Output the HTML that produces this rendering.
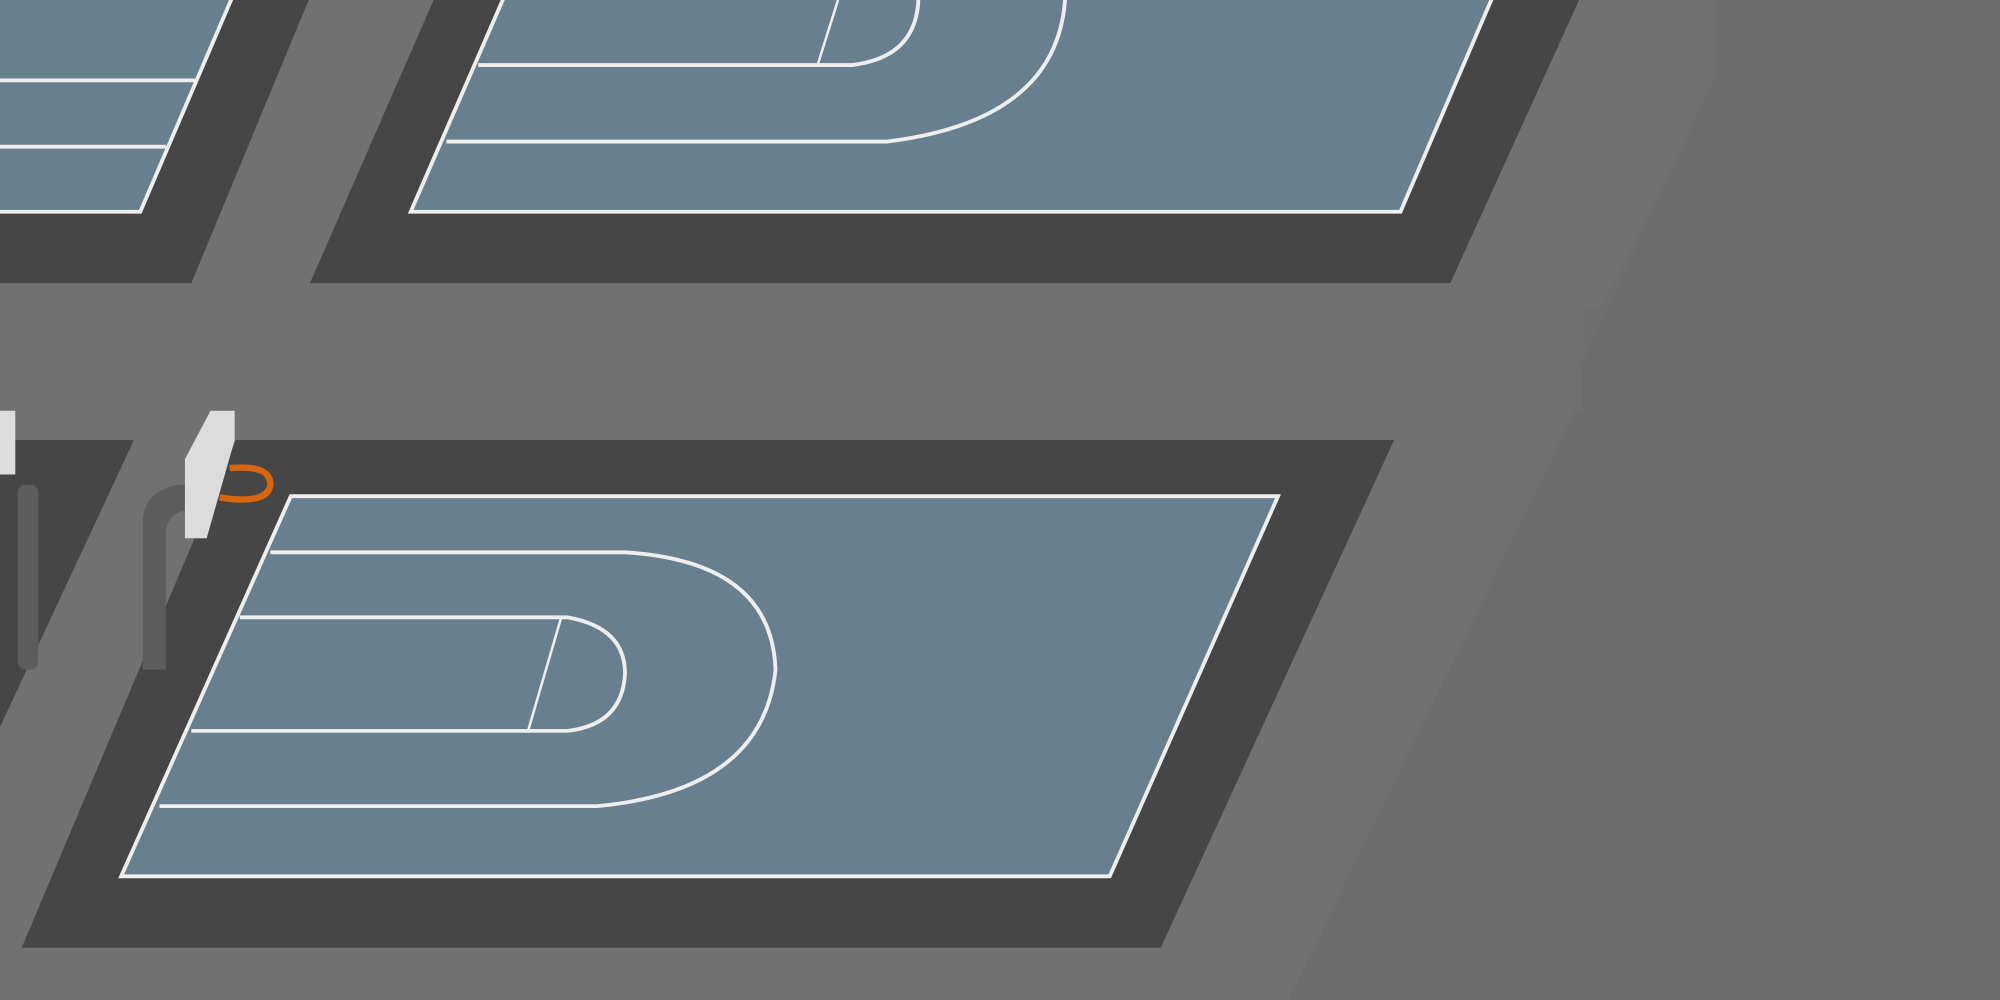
<!DOCTYPE html>
<html><head><meta charset="utf-8"><style>
html,body{margin:0;padding:0;width:2000px;height:1000px;overflow:hidden;background:#6f6f6f}
svg{display:block}
</style></head><body>
<svg width="2000" height="1000" viewBox="0 0 1568 784" preserveAspectRatio="none" xmlns="http://www.w3.org/2000/svg">
  <rect x="0" y="0" width="1568" height="784" fill="#6f6f6f"/>
  <polygon points="1345,0 1568,0 1568,784 1010,784 1345,60" fill="#6d6d6d"/>
  <polygon points="0,0 1345,0 1345,60 1255,242 0,242" fill="#717171"/>
  <rect x="0" y="242" width="1240" height="80" fill="#707070"/>
  <polygon points="0,322 1235,322 1010,784 0,784" fill="#717171"/>

  <!-- top-left partial court -->
  <polygon points="0,0 242,0 150,222 0,222" fill="#464646"/>
  <polygon points="-6,-2 182,-2 110,166 -6,166" fill="#687f8f" stroke="#eeeeee" stroke-width="3"/>
  <g stroke="#eeeeee" stroke-width="3" fill="none">
    <line x1="0" y1="63" x2="153" y2="63"/>
    <line x1="0" y1="115" x2="130" y2="115"/>
  </g>

  <!-- top court -->
  <polygon points="340,0 1238,0 1137,222 243,222" fill="#464646"/>
  <polygon points="395,-2 1170,-2 1098,166 322,166" fill="#687f8f" stroke="#eeeeee" stroke-width="3"/>
  <g stroke="#eeeeee" stroke-width="3" fill="none">
    <path d="M375,51 L668,51 Q718,45 720,0"/>
    <path d="M350,111 L695,111 Q828,95 835,0"/>
    <line x1="657" y1="0" x2="641" y2="51" stroke-width="2"/>
  </g>

  <!-- bottom-left partial court -->
  <polygon points="0,345 105,345 0,570" fill="#464646"/>
  <rect x="14" y="380" width="16" height="145" rx="6" fill="#5d5d5d"/>
  <rect x="0" y="322" width="12" height="50" fill="#dddddd"/>

  <!-- bottom court -->
  <polygon points="185,345 1093,345 910,743 17,743" fill="#464646"/>
  <polygon points="228,389 1002,389 870,687 95,687" fill="#687f8f" stroke="#eeeeee" stroke-width="3"/>
  <g stroke="#eeeeee" stroke-width="3" fill="none">
    <path d="M212,433 L490,433 Q605,440 608,525 Q598,620 468,632 L125,632"/>
    <path d="M188,484 L445,484 Q490,492 490,528 Q488,568 445,573 L150,573"/>
    <line x1="440" y1="484" x2="414" y2="573" stroke-width="2"/>
  </g>

  <!-- hoop -->
  <path d="M112,525 L112,410 Q112,385 140,380 L150,380 L150,400 Q130,400 130,420 L130,525 Z" fill="#5d5d5d"/>
  <polygon points="145,360 165,322 184,322 184,345 162,422 145,422" fill="#dcdcdc"/>
  <path d="M180,367 Q212,364 212,380 Q210,396 172,390" fill="none" stroke="#d9650f" stroke-width="5"/>
</svg>
</body></html>
